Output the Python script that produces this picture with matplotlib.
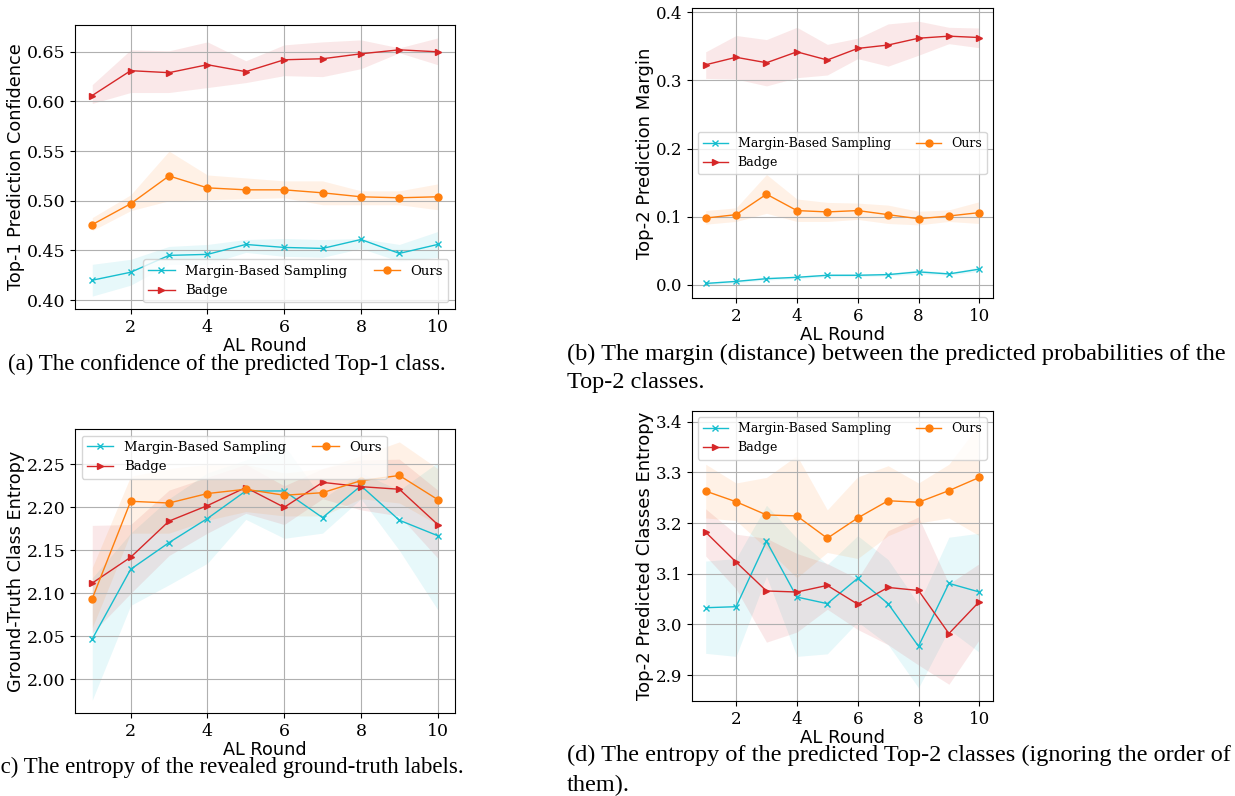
import matplotlib
matplotlib.use("Agg")
import matplotlib.pyplot as plt

plt.rcParams['font.family'] = ['DejaVu Serif']

rounds = [1, 2, 3, 4, 5, 6, 7, 8, 9, 10]
names = ["Margin-Based Sampling", "Badge", "Ours"]

# (a) top-1 confidence
a_margin = [0.420, 0.428, 0.445, 0.446, 0.456, 0.453, 0.452, 0.461, 0.447, 0.456]
a_margin_lo = [0.404, 0.415, 0.436, 0.436, 0.448, 0.444, 0.443, 0.452, 0.439, 0.443]
a_margin_hi = [0.436, 0.441, 0.454, 0.456, 0.461, 0.462, 0.461, 0.462, 0.456, 0.469]
a_badge = [0.606, 0.631, 0.629, 0.637, 0.630, 0.642, 0.643, 0.648, 0.652, 0.650]
a_badge_lo = [0.598, 0.609, 0.609, 0.614, 0.619, 0.626, 0.625, 0.633, 0.649, 0.637]
a_badge_hi = [0.617, 0.652, 0.651, 0.660, 0.641, 0.657, 0.660, 0.662, 0.654, 0.664]
a_ours = [0.476, 0.497, 0.525, 0.513, 0.511, 0.511, 0.508, 0.504, 0.503, 0.504]
a_ours_lo = [0.470, 0.490, 0.500, 0.501, 0.502, 0.503, 0.496, 0.496, 0.496, 0.491]
a_ours_hi = [0.483, 0.506, 0.550, 0.526, 0.523, 0.520, 0.520, 0.510, 0.510, 0.517]

# (b) top-2 margin
b_margin = [0.002, 0.005, 0.009, 0.011, 0.014, 0.014, 0.015, 0.019, 0.016, 0.023]
b_margin_lo = [0.000, 0.003, 0.007, 0.009, 0.012, 0.012, 0.013, 0.016, 0.014, 0.020]
b_margin_hi = [0.004, 0.007, 0.011, 0.013, 0.016, 0.016, 0.017, 0.022, 0.018, 0.026]
b_badge = [0.323, 0.334, 0.326, 0.342, 0.330, 0.347, 0.352, 0.362, 0.365, 0.363]
b_badge_lo = [0.303, 0.302, 0.292, 0.304, 0.308, 0.332, 0.321, 0.337, 0.354, 0.348]
b_badge_hi = [0.342, 0.366, 0.360, 0.378, 0.353, 0.362, 0.383, 0.387, 0.378, 0.377]
b_ours = [0.098, 0.103, 0.133, 0.109, 0.107, 0.109, 0.103, 0.097, 0.101, 0.106]
b_ours_lo = [0.089, 0.093, 0.105, 0.093, 0.093, 0.096, 0.090, 0.088, 0.093, 0.090]
b_ours_hi = [0.109, 0.113, 0.162, 0.126, 0.121, 0.120, 0.117, 0.108, 0.110, 0.122]

# (c) ground-truth class entropy
c_margin = [2.047, 2.128, 2.159, 2.187, 2.219, 2.219, 2.188, 2.225, 2.185, 2.167]
c_margin_lo = [1.976, 2.086, 2.110, 2.135, 2.186, 2.164, 2.170, 2.210, 2.150, 2.081]
c_margin_hi = [2.118, 2.170, 2.210, 2.240, 2.255, 2.272, 2.210, 2.240, 2.220, 2.252]
c_badge = [2.112, 2.142, 2.184, 2.202, 2.223, 2.200, 2.229, 2.224, 2.221, 2.180]
c_badge_lo = [2.054, 2.100, 2.144, 2.170, 2.193, 2.180, 2.210, 2.197, 2.190, 2.141]
c_badge_hi = [2.179, 2.180, 2.220, 2.235, 2.250, 2.225, 2.245, 2.255, 2.256, 2.220]
c_ours = [2.094, 2.207, 2.205, 2.216, 2.221, 2.214, 2.217, 2.231, 2.237, 2.209]
c_ours_lo = [2.060, 2.170, 2.170, 2.185, 2.195, 2.190, 2.190, 2.210, 2.205, 2.180]
c_ours_hi = [2.130, 2.236, 2.245, 2.250, 2.250, 2.240, 2.245, 2.260, 2.276, 2.245]

# (d) top-2 predicted classes entropy
d_margin = [3.033, 3.035, 3.164, 3.054, 3.041, 3.091, 3.041, 2.957, 3.081, 3.064]
d_margin_lo = [2.943, 2.937, 3.095, 2.937, 2.942, 3.005, 2.960, 2.875, 2.990, 2.945]
d_margin_hi = [3.125, 3.130, 3.235, 3.170, 3.118, 3.175, 3.128, 3.040, 3.172, 3.180]
d_badge = [3.182, 3.123, 3.066, 3.064, 3.077, 3.040, 3.073, 3.067, 2.982, 3.045]
d_badge_lo = [3.135, 3.070, 2.965, 2.985, 3.030, 2.990, 2.960, 2.920, 2.882, 2.970]
d_badge_hi = [3.228, 3.178, 3.170, 3.140, 3.120, 3.090, 3.185, 3.212, 3.080, 3.120]
d_ours = [3.263, 3.242, 3.216, 3.214, 3.170, 3.210, 3.244, 3.241, 3.264, 3.290]
d_ours_lo = [3.210, 3.205, 3.150, 3.092, 3.142, 3.130, 3.175, 3.200, 3.210, 3.175]
d_ours_hi = [3.316, 3.279, 3.290, 3.333, 3.226, 3.291, 3.313, 3.279, 3.316, 3.395]

colors = ["tab:cyan", "tab:red", "tab:orange"]
markers = ["x", ">", "o"]

W, H = 1235, 796
fig = plt.figure(figsize=(W / 100, H / 100), dpi=100)


def box(x0, y0, x1, y1):
    return [x0 / W, 1 - y1 / H, (x1 - x0) / W, (y1 - y0) / H]


# left column text comes out a bit larger than the right one
panels = [
    (box(75, 25, 455, 309), "Top-1 Prediction Confidence",
     [(a_margin, a_margin_lo, a_margin_hi), (a_badge, a_badge_lo, a_badge_hi), (a_ours, a_ours_lo, a_ours_hi)],
     "lower right", [0.40, 0.45, 0.50, 0.55, 0.60, 0.65], "{:.2f}", 12.5, 12.7, 9.5),
    (box(692, 8, 993, 298), "Top-2 Prediction Margin",
     [(b_margin, b_margin_lo, b_margin_hi), (b_badge, b_badge_lo, b_badge_hi), (b_ours, b_ours_lo, b_ours_hi)],
     "center right", [0.0, 0.1, 0.2, 0.3, 0.4], "{:.1f}", 12, 13, 9),
    (box(75, 429, 455, 713), "Ground-Truth Class Entropy",
     [(c_margin, c_margin_lo, c_margin_hi), (c_badge, c_badge_lo, c_badge_hi), (c_ours, c_ours_lo, c_ours_hi)],
     "upper left", [2.00, 2.05, 2.10, 2.15, 2.20, 2.25], "{:.2f}", 12.5, 12.7, 9.5),
    (box(692, 411, 993, 701), "Top-2 Predicted Classes Entropy",
     [(d_margin, d_margin_lo, d_margin_hi), (d_badge, d_badge_lo, d_badge_hi), (d_ours, d_ours_lo, d_ours_hi)],
     "upper right", [2.9, 3.0, 3.1, 3.2, 3.3, 3.4], "{:.1f}", 12, 13, 9),
]

for rect, ylab, series, loc, yt, fmt, tick_fs, lab_fs, leg_fs in panels:
    ax = fig.add_axes(rect)
    for (m, lo, hi), name, c, mk in zip(series, names, colors, markers):
        ax.plot(rounds, m, color=c, marker=mk, markersize=5, linewidth=1, label=name)
        ax.fill_between(rounds, lo, hi, color=c, alpha=0.1, linewidth=0)
    ax.grid(True)
    ax.set_xticks([2, 4, 6, 8, 10])
    ax.set_yticks(yt)
    ax.set_yticklabels([fmt.format(v) for v in yt])
    ax.tick_params(labelsize=tick_fs)
    ax.set_xlabel("AL Round", family="DejaVu Sans", fontsize=lab_fs, labelpad=1)
    ax.set_ylabel(ylab, family="DejaVu Sans", fontsize=lab_fs, labelpad=1)
    ax.legend(loc=loc, ncol=2, fontsize=leg_fs)

cap_l = dict(family="Liberation Serif", fontsize=16.5, va="top", ha="left")
cap_r = dict(family="Liberation Serif", fontsize=17.5, va="top", ha="left")
fig.text(8 / W, 1 - 354 / H, "(a) The confidence of the predicted Top-1 class.", **cap_l)
fig.text(567 / W, 1 - 344 / H, "(b) The margin (distance) between the predicted probabilities of the", **cap_r)
fig.text(567 / W, 1 - 372 / H, "Top-2 classes.", **cap_r)
fig.text(-7 / W, 1 - 757 / H, "(c) The entropy of the revealed ground-truth labels.", **cap_l)
fig.text(567 / W, 1 - 745 / H, "(d) The entropy of the predicted Top-2 classes (ignoring the order of", **cap_r)
fig.text(567 / W, 1 - 775 / H, "them).", **cap_r)

fig.savefig("out.png", dpi=100)
